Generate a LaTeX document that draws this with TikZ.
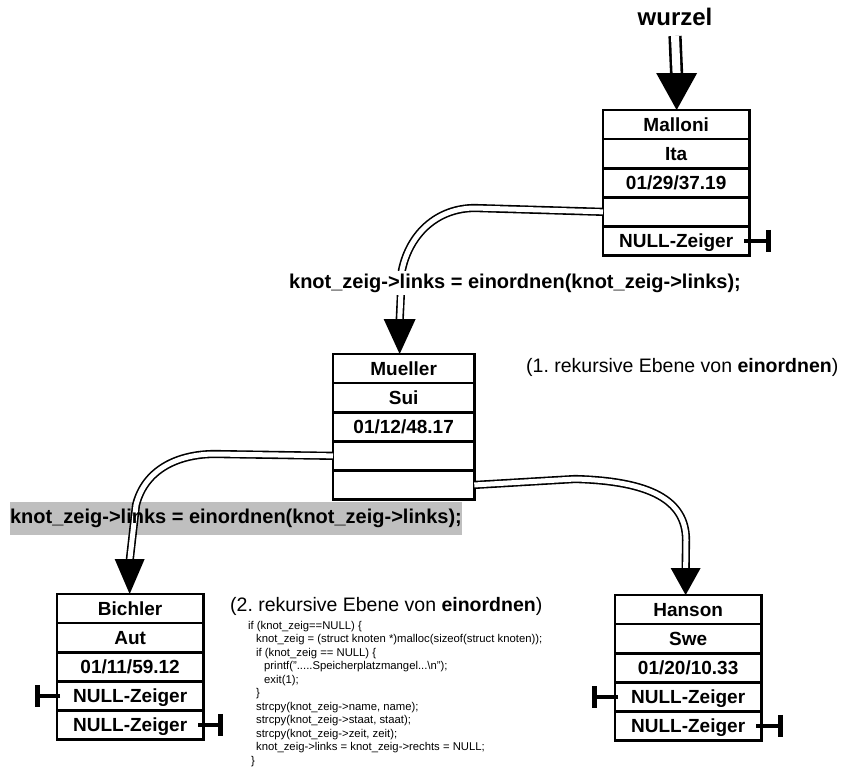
\documentclass[tikz,border=0pt]{standalone}
\usepackage{fontspec}
\setmainfont{Liberation Sans}
\usetikzlibrary{arrows.meta,calc}
\definecolor{bandgray}{RGB}{191,191,191}
\frenchspacing
\tikzset{
  cell/.style={draw, line width=1.3pt, inner sep=0pt, minimum height=27.8pt,
    text height=13.6pt, text depth=0pt, font=\fontsize{19}{22}\selectfont\bfseries},
  frame/.style={draw, line width=2.6pt},
  dbl/.style={draw, line width=1.6pt, double=white, double distance=5pt},
  dblw/.style={draw, line width=2.6pt, double=white, double distance=8pt},
  tip/.style={fill=black},
  term/.style={draw, line width=4pt, -{Bar[width=22pt,line width=5pt]}},
  lbl/.style={font=\fontsize{20}{24}\selectfont\bfseries, inner sep=3pt},
  note/.style={font=\fontsize{19.5}{24}\selectfont, inner sep=0pt, anchor=west},
  code/.style={font=\fontsize{11.3}{13.5}\selectfont, align=left, inner sep=0pt, anchor=north west}
}
\newcommand\recbox[9]{%
  \node[cell, minimum width=#4, anchor=north west] (#1-1) at (#2,#3) {#5};
  \node[cell, minimum width=#4, anchor=north] (#1-2) at (#1-1.south) {#6};
  \node[cell, minimum width=#4, anchor=north] (#1-3) at (#1-2.south) {#7};
  \node[cell, minimum width=#4, anchor=north] (#1-4) at (#1-3.south) {#8};
  \node[cell, minimum width=#4, anchor=north] (#1-5) at (#1-4.south) {#9};
  \draw[frame] (#1-1.north west) rectangle (#1-5.south east);
}
\begin{document}
\begin{tikzpicture}[x=1pt,y=-1pt]
\useasboundingbox (0,0) rectangle (843,766);

% grey band behind second label
\fill[bandgray] (10,502) rectangle (462,535);

% records
\recbox{ma}{603}{110}{145}{Malloni}{Ita}{01/29/37.19}{}{NULL-Zeiger}
\recbox{mu}{333}{354}{140}{Mueller}{Sui}{01/12/48.17}{}{}
\recbox{bi}{57}{594}{145}{Bichler}{Aut}{01/11/59.12}{NULL-Zeiger}{NULL-Zeiger}
\recbox{ha}{615}{595}{145}{Hanson}{Swe}{01/20/10.33}{NULL-Zeiger}{NULL-Zeiger}

% root label
\node[font=\fontsize{24}{28}\selectfont\bfseries, inner sep=0pt] (w) at (675,17) {wurzel};

% arrow tips
\coordinate (maT) at ([xshift=0.5pt]ma-1.north);
\coordinate (muT) at ([xshift=-4pt]mu-1.north);
\coordinate (biT) at ([xshift=-0.5pt]bi-1.north);
\coordinate (haT) at ([xshift=-2.5pt]ha-1.north);
\coordinate (maA) at ([yshift=37pt]maT);
\coordinate (muA) at ([yshift=35pt]muT);
\coordinate (biA) at ([yshift=35pt]biT);
\coordinate (haA) at ([yshift=27pt]haT);

% connectors (double lines)
\draw[dblw] ([yshift=-10pt]w.south) -- ([yshift=-2pt]maA);
\draw[dbl] (ma-4.west) -- (475,208) to[out=180,in=78] (402,270) -- ([yshift=-2pt]muA);
\draw[dbl] (mu-4.west) -- (215,454) to[out=180,in=76] (136,505) -- ([yshift=-2pt]biA);
\draw[dbl] (mu-5.east) -- (575,479) .. controls (650,481) and (686,500) .. (686,540) -- ([yshift=-2pt]haA);

% arrowheads
\fill[tip] (maT) -- ([xshift=-20.5pt]maA) -- ([xshift=20.5pt]maA) -- cycle;
\fill[tip] (muT) -- ([xshift=-16pt]muA) -- ([xshift=16pt]muA) -- cycle;
\fill[tip] (biT) -- ([xshift=-15pt]biA) -- ([xshift=15pt]biA) -- cycle;
\fill[tip] (haT) -- ([xshift=-15pt]haA) -- ([xshift=15pt]haA) -- cycle;

% labels over the connectors
\node[lbl, fill=white] (l1) at (515,283) {knot\_zeig->links = einordnen(knot\_zeig->links);};
\node[lbl] (l2) at (236,518.5) {knot\_zeig->links = einordnen(knot\_zeig->links);};

% NULL terminators
\coordinate (t1) at ([xshift=22pt]ma-5.east);
\coordinate (t2) at ([xshift=-22pt]bi-4.west);
\coordinate (t3) at ([xshift=20pt]bi-5.east);
\coordinate (t4) at ([xshift=-23pt]ha-4.west);
\coordinate (t5) at ([xshift=22pt]ha-5.east);
\draw[term] ([xshift=-5pt]ma-5.east) -- (t1);
\draw[term] ([xshift=3pt]bi-4.west) -- (t2);
\draw[term] ([xshift=-5pt]bi-5.east) -- (t3);
\draw[term] ([xshift=3pt]ha-4.west) -- (t4);
\draw[term] ([xshift=-5pt]ha-5.east) -- (t5);

% notes
\node[note] (n1) at (526,367) {(1. rekursive Ebene von \textbf{einordnen})};
\node[note] (n2) at (230,606) {(2. rekursive Ebene von \textbf{einordnen})};

% code
\node[code] (c) at (248,621) {%
if (knot\_zeig==NULL) \{\\
\hspace*{8pt}knot\_zeig = (struct knoten *)malloc(sizeof(struct knoten));\\
\hspace*{8pt}if (knot\_zeig == NULL) \{\\
\hspace*{16pt}printf(".....Speicherplatzmangel...\textbackslash n");\\
\hspace*{16pt}exit(1);\\
\hspace*{8pt}\}\\
\hspace*{8pt}strcpy(knot\_zeig->name, name);\\
\hspace*{8pt}strcpy(knot\_zeig->staat, staat);\\
\hspace*{8pt}strcpy(knot\_zeig->zeit, zeit);\\
\hspace*{8pt}knot\_zeig->links = knot\_zeig->rechts = NULL;\\
\hspace*{3pt}\}};
\end{tikzpicture}
\end{document}
